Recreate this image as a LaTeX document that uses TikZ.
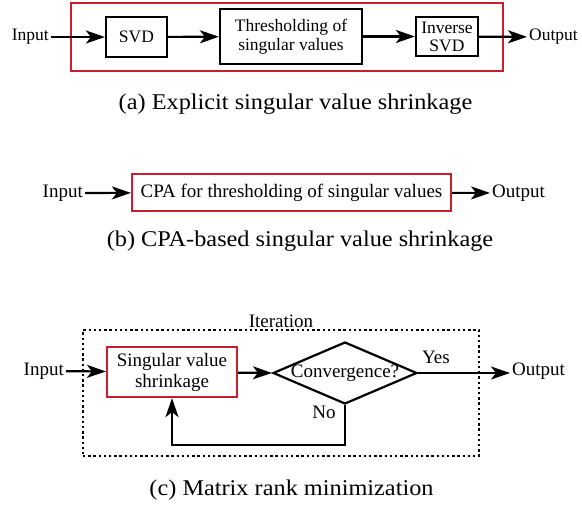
\documentclass[tikz,border=0pt]{standalone}
\usepackage{fontspec}
\setmainfont{Liberation Serif}
\usepackage{graphicx}
\usetikzlibrary{arrows.meta,shapes.geometric}
\definecolor{cred}{RGB}{200,30,45}
\tikzset{
  lbla/.style={inner sep=2pt, font=\fontsize{17.5}{20}\selectfont, align=center},
  lblb/.style={inner sep=2pt, font=\fontsize{19}{22}\selectfont, align=center},
  blackbox/.style={draw, line width=2.2pt, inner sep=0pt, align=center, font=\fontsize{17.5}{20}\selectfont},
  redbox/.style={draw=cred, line width=2.2pt, inner sep=0pt, align=center},
  arr/.style={line width=2.2pt, -{Stealth[length=19pt,width=13pt,inset=5pt]}},
  dotbox/.style={draw, line width=2.4pt, dash pattern=on 2.4pt off 2.8pt, inner sep=0pt},
  capt/.style={inner sep=0pt, font=\fontsize{22.5}{26}\selectfont}
}
\begin{document}
\begin{tikzpicture}[x=1pt,y=-1pt]
\useasboundingbox (0,0) rectangle (582,506);
% ---------- panel (a)
\node[redbox, minimum width=432pt, minimum height=68pt] (fa) at (287,37) {};
\node[lbla, anchor=east] (ina) at (51,37) {Input};
\node[blackbox, minimum width=61pt, minimum height=40pt] (svd) at (136.5,37) {SVD};
\node[blackbox, minimum width=142pt, minimum height=55pt] (thr) at (291,36.5) {Thresholding of\\[-1pt]singular values};
\node[blackbox, minimum width=62pt, minimum height=39pt] (inv) at (447,36.5) {Inverse\\[-2pt]SVD};
\node[lbla, anchor=west] (outa) at (527,37) {Output};
\draw[arr] (ina) -- (svd);
\draw[arr] (svd) -- (thr);
\draw[arr] (thr) -- (inv);
\draw[arr] (inv) -- (outa);
\node[capt] (capa) at (295.5,104) {\scalebox{1.08}[1]{(a) Explicit singular value shrinkage}};
% ---------- panel (b)
\node[lblb, anchor=east] (inb) at (85,193) {Input};
\node[redbox, minimum width=319pt, minimum height=37pt, font=\fontsize{19}{22}\selectfont] (cpa) at (291.5,192.5) {CPA for thresholding of singular values};
\node[lblb, anchor=west] (outb) at (490,193) {Output};
\draw[arr] (inb) -- (cpa);
\draw[arr] (cpa) -- (outb);
\node[capt] (capb) at (300,241) {\scalebox{1.08}[1]{(b) CPA-based singular value shrinkage}};
% ---------- panel (c)
\node[dotbox, minimum width=396pt, minimum height=126pt] (iter) at (281,393) {};
\node[lblb, anchor=south, inner sep=1pt] (itl) at (iter.north) {Iteration};
\node[lblb, anchor=east] (inc) at (66,371) {Input};
\node[redbox, minimum width=130pt, minimum height=50pt, font=\fontsize{19}{22}\selectfont] (sv) at (172,372) {Singular value\\[-1pt]shrinkage};
\node[diamond, draw, line width=2.2pt, minimum width=144pt, minimum height=62pt, inner sep=0pt] (conv) at (345,373) {};
\node[lblb, inner sep=0pt] (convt) at (conv) {Convergence?};
\node[lblb, anchor=west] (outc) at (510,371) {Output};
\node[lblb] (yes) at (436,357) {Yes};
\node[lblb] (no) at (324,412) {No};
\coordinate (fb) at (345,445);
\draw[arr] (inc) -- (sv);
\draw[arr] (sv) -- (conv.west);
\draw[arr] (conv.east) -- (outc.west |- conv.east);
\draw[arr] (conv.south) -- (fb) -| (sv.south);
\node[capt] (capc) at (291.5,490) {\scalebox{1.08}[1]{(c) Matrix rank minimization}};
\end{tikzpicture}
\end{document}
